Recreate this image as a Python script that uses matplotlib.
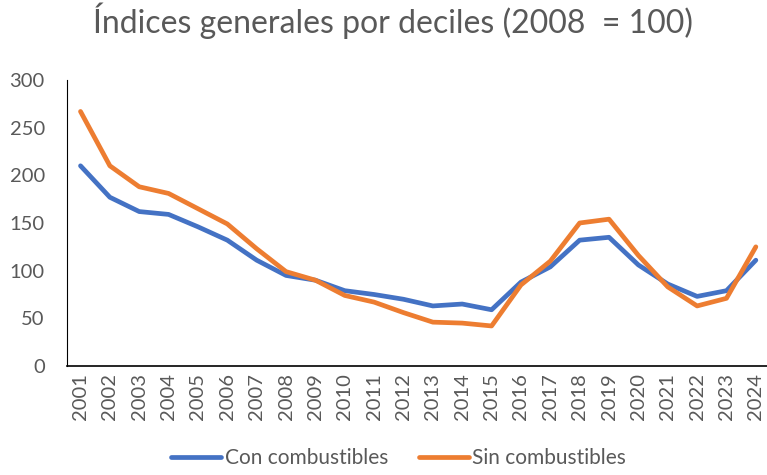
import matplotlib.pyplot as plt

plt.rcParams['font.family'] = ['Lato', 'DejaVu Sans']

# Data
years = [str(y) for y in range(2001, 2025)]
con_combustibles = [210, 177, 162, 159, 146, 132, 111, 95, 90, 79, 75, 70, 63, 65, 59,
                    88, 104, 132, 135, 106, 86, 73, 79, 111]
sin_combustibles = [267, 210, 188, 181, 165, 149, 123, 99, 90, 74, 67, 56, 46, 45, 42,
                    85, 110, 150, 154, 116, 83, 63, 71, 125]

gray = '#595959'

fig = plt.figure(figsize=(7.67, 4.75), dpi=100)
ax = fig.add_axes([67 / 767, 109 / 475, 700 / 767, 286 / 475])

x = range(len(years))
ax.plot(x, con_combustibles, color='#4472C4', lw=3.4, label='Con combustibles',
        solid_joinstyle='round', solid_capstyle='round')
ax.plot(x, sin_combustibles, color='#ED7D31', lw=3.4, label='Sin combustibles',
        solid_joinstyle='round', solid_capstyle='round')

ax.set_xlim(-0.46, 23.38)
ax.set_ylim(0, 300)
ax.set_yticks(range(0, 301, 50))
ax.set_xticks(list(x))
ax.set_xticklabels(years, rotation=90)
ax.tick_params(axis='both', length=0, labelsize=14.5, colors=gray)
ax.tick_params(axis='x', pad=5)
ax.tick_params(axis='y', pad=16)

ax.spines['top'].set_visible(False)
ax.spines['right'].set_visible(False)
ax.spines['left'].set_color('black')
ax.spines['bottom'].set_color('black')
ax.spines['bottom'].set_linewidth(1.2)

fig.suptitle('Índices generales por deciles (2008  = 100)', x=0.513, y=0.995,
             fontsize=23, color=gray, va='top')

fig.legend(loc='lower center', bbox_to_anchor=(0.52, -0.025), ncol=2, frameon=False,
           fontsize=15, labelcolor=gray, handlelength=2.4, handletextpad=0.15,
           columnspacing=1.5)

fig.savefig('out.png', dpi=100)
